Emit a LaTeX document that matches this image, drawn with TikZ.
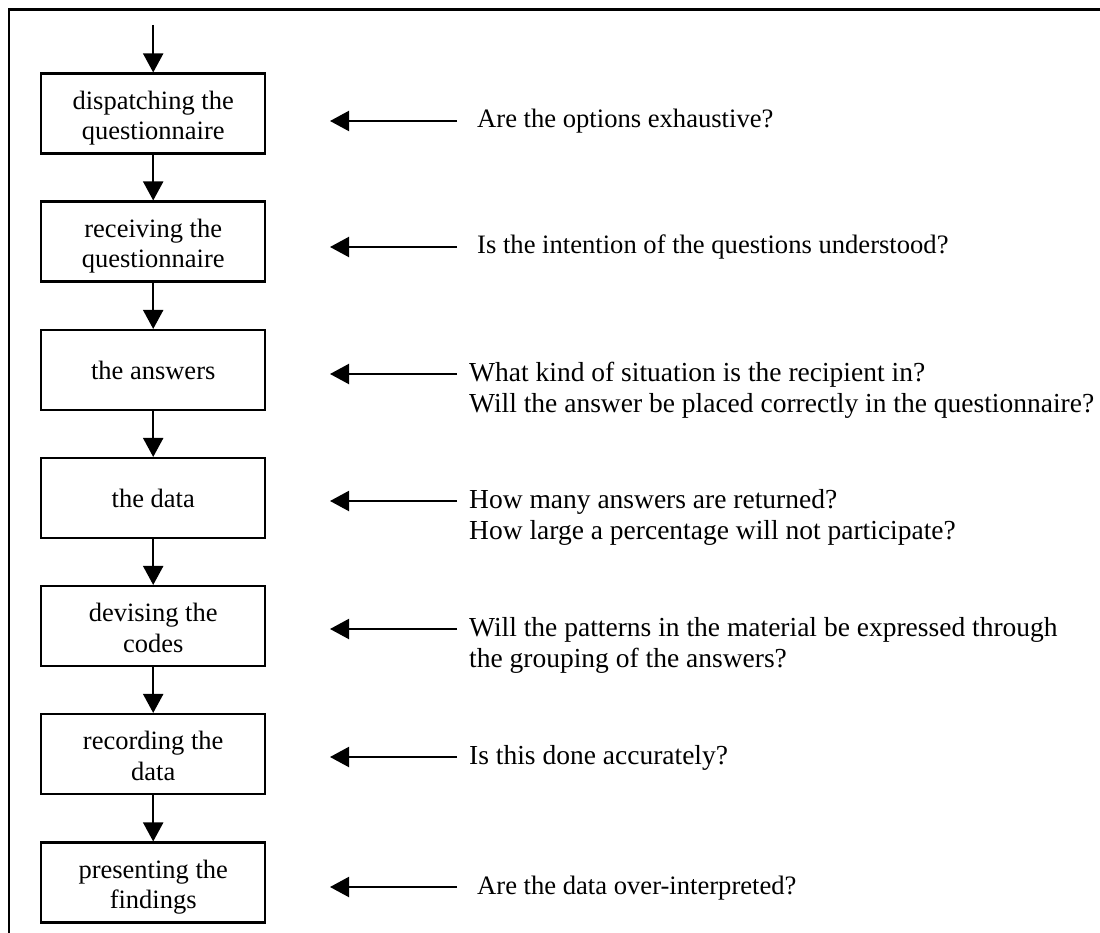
\documentclass[tikz,border=0pt]{standalone}
\usepackage{fontspec}
\setmainfont{Liberation Serif}
\usetikzlibrary{arrows.meta}
\newcommand{\mytwolines}[2]{\raisebox{-5pt}[\height][\depth]{\begin{tabular}{@{}c@{}}#1\\#2\end{tabular}}}
\begin{document}
\begin{tikzpicture}[x=1pt,y=-1pt,
  stepbox/.style={draw=black, line width=2.1pt, minimum width=224pt, minimum height=80pt, inner sep=0pt, align=center, font=\fontsize{26.5}{30.5}\selectfont},
  flow/.style={line width=2.1pt, -{Triangle[length=19pt,width=20pt]}},
  question/.style={anchor=base west, inner sep=0pt, font=\fontsize{26.6}{31.7}\selectfont},
  bigquestion/.style={question, font=\fontsize{27.5}{31.7}\selectfont},
  frame/.style={line width=2.1pt}
]
\useasboundingbox (0,0) rectangle (1100,933);
\draw[frame] (9,936) -- (9,9.5) -- (1103,9.5);

\node[stepbox] (b1) at (153.2,113.5) {\mytwolines{dispatching the}{questionnaire}};
\node[stepbox] (b2) at (153.2,241.5) {\mytwolines{receiving the}{questionnaire}};
\node[stepbox] (b3) at (153.2,370) {the answers};
\node[stepbox] (b4) at (153.2,498) {the data};
\node[stepbox] (b5) at (153.2,626) {\mytwolines{devising the}{codes}};
\node[stepbox] (b6) at (153.2,754) {\mytwolines{recording the}{data}};
\node[stepbox] (b7) at (153.2,882.5) {\mytwolines{presenting the}{findings}};

\coordinate (start) at (153.2,25);
\draw[flow] (start) -- (b1);
\draw[flow] (b1) -- (b2);
\draw[flow] (b2) -- (b3);
\draw[flow] (b3) -- (b4);
\draw[flow] (b4) -- (b5);
\draw[flow] (b5) -- (b6);
\draw[flow] (b6) -- (b7);

\node[question] (q1) at (477,128) {Are the options exhaustive?};
\node[question] (q2) at (477,254) {Is the intention of the questions understood?};
\node[bigquestion] (q3) at (469,381) {\begin{tabular}[t]{@{}l@{}}What kind of situation is the recipient in?\\Will the answer be placed correctly in the questionnaire?\end{tabular}};
\node[bigquestion] (q4) at (469,508) {\begin{tabular}[t]{@{}l@{}}How many answers are returned?\\How large a percentage will not participate?\end{tabular}};
\node[bigquestion] (q5) at (469,636) {\begin{tabular}[t]{@{}l@{}}Will the patterns in the material be expressed through\\the grouping of the answers?\end{tabular}};
\node[bigquestion] (q6) at (469,764) {Is this done accurately?};
\node[question] (q7) at (477,894) {Are the data over-interpreted?};

\foreach \i/\y in {1/121,2/247,3/374,4/501,5/629,6/757,7/887}{
  \coordinate (a\i) at (457,\y);
  \coordinate (h\i) at (330,\y);
  \draw[flow] (a\i) -- (h\i);
}
\end{tikzpicture}
\end{document}
